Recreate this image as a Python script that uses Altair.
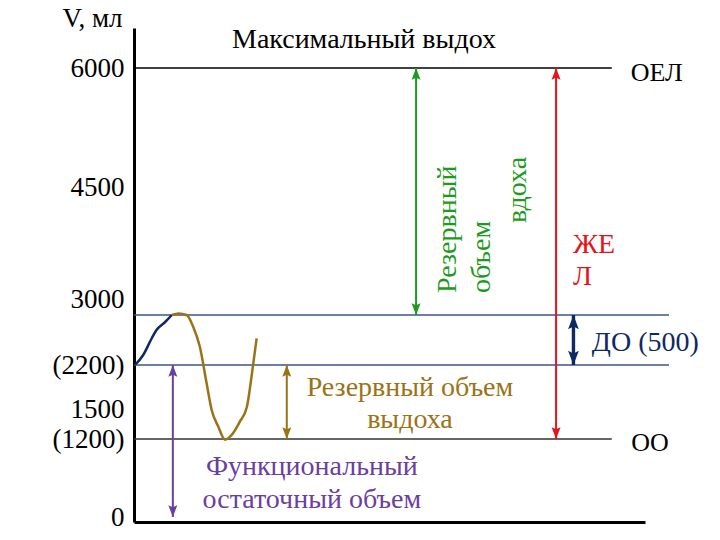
import altair as alt
import pandas as pd

# ---------------- data (volumes in ml, x in arbitrary time units 0..100) ----------------
tick_values = [0, 1200, 1500, 2200, 3000, 4500, 6000]

# hand-drawn (non-uniform) vertical axis of the original: breakpoints of the volume scale
y_breaks = [-80, 0, 1200, 1500, 2200, 2700, 3000, 4500, 6000, 6400]

# horizontal level lines
level_kind = ["черный", "уровень", "уровень", "ОО"]
level_v = [6000, 2700, 2200, 1200]
level_x0 = [0, 0, 0, 0]
level_x1 = [93.5, 104.7, 104.7, 93.5]

# spirogram: inspiration to the top of tidal volume, then tidal breathing + max expiration
insp_x = [0.2, 1.8, 3.5, 4.4, 6.1, 7.4]
insp_v = [2200, 2300, 2470, 2550, 2630, 2700]
breath_x = [7.4, 8.7, 10.3, 11.6, 12.9, 14.2, 15.2, 16.5, 17.8, 19.1, 20.7, 22.1, 23.0, 24.0]
breath_v = [2700, 2730, 2700, 2580, 2380, 1914, 1490, 1323, 1190, 1240, 1373, 1537, 2014, 2467]

# double-headed arrows
arrow_kind = ["ФОО", "РОвыд", "РОвд", "ЖЕЛ", "ДО"]
arrow_x = [7.6, 29.9, 55.2, 82.6, 86.0]
arrow_lo = [0, 1200, 2700, 1200, 2200]
arrow_hi = [2200, 2200, 6000, 6000, 2700]

# left-aligned labels
lab_text = ["ОЕЛ", "ЖЕ", "Л", "ДО (500)", "ОО"]
lab_kind = ["черный", "ЖЕЛ", "ЖЕЛ", "ДО", "черный"]
lab_x = [97.2, 85.9, 85.9, 89.6, 97.3]
lab_v = [5937, 3723, 3295, 2420, 1138]

# centred labels
cen_text = ["Максимальный выдох", "Резервный объем", "выдоха", "Функциональный", "остаточный объем"]
cen_kind = ["черный", "РОвыд", "РОвыд", "ФОО", "ФОО"]
cen_x = [45.0, 54.0, 54.0, 34.8, 34.8]
cen_v = [6280, 1834, 1390, 769, 261]

# rotated labels (reserve inspiratory volume)
rot_text = ["Резервный", "объем", "вдоха"]
rot_kind = ["РОвд", "РОвд", "РОвд"]
rot_x = [61.4, 68.1, 75.1]
rot_v = [3080, 3080, 4018]

# ---------------- tables ----------------
levels = pd.DataFrame({"kind": level_kind, "v": level_v, "x0": level_x0, "x1": level_x1})
curve = pd.DataFrame({
    "kind": ["ДО"] * len(insp_x) + ["РОвыд"] * len(breath_x),
    "x": insp_x + breath_x,
    "v": insp_v + breath_v,
    "order": list(range(len(insp_x))) + list(range(len(breath_x))),
})
arrows = pd.DataFrame({"kind": arrow_kind, "x": arrow_x, "lo": arrow_lo, "hi": arrow_hi})
labels = pd.DataFrame({"text": lab_text, "kind": lab_kind, "x": lab_x, "v": lab_v})
centred = pd.DataFrame({"text": cen_text, "kind": cen_kind, "x": cen_x, "v": cen_v})
rotated = pd.DataFrame({"text": rot_text, "kind": rot_kind, "x": rot_x, "v": rot_v})

# ---------------- scales / styles ----------------
W, H = 511, 494
colors = {
    "черный": "#000000",
    "уровень": "#3B5689",
    "ОО": "#333333",
    "ДО": "#0D2A62",
    "РОвд": "#1E9A1E",
    "ЖЕЛ": "#E5141B",
    "РОвыд": "#9A7316",
    "ФОО": "#6B3E9F",
}
color_scale = alt.Scale(domain=list(colors.keys()), range=list(colors.values()))
x_scale = alt.Scale(domain=[0, 100], nice=False, zero=False)
y_scale = alt.Scale(domain=y_breaks,
                    range=[494, 489, 411, 381, 337, 287, 271, 159, 40, 0],
                    nice=False, zero=False)

FONT = "Liberation Serif"

x_axis = alt.Axis(domain=True, domainColor="black", domainWidth=3, ticks=False,
                  labels=False, grid=False, title="")
y_axis = alt.Axis(values=tick_values, domain=True, domainColor="black", domainWidth=3,
                  ticks=False, grid=False, labelFont=FONT, labelFontSize=27,
                  labelColor="black", labelPadding=10, labelOverlap=False, labelFlush=False,
                  labelExpr="(datum.value == 2200 || datum.value == 1200) ? '(' + datum.value + ')' : '' + datum.value",
                  title="V, мл", titleAngle=0, titleX=-42, titleY=-10, titleAlign="center",
                  titleBaseline="middle", titleFont=FONT, titleFontSize=27,
                  titleFontWeight="normal", titleColor="black")

def X(field):
    return alt.X(field, type="quantitative", scale=x_scale, axis=x_axis)

def Y(field):
    return alt.Y(field, type="quantitative", scale=y_scale, axis=y_axis)

C = alt.Color("kind:N", scale=color_scale, legend=None)
HEAD_SIZE = alt.condition(alt.datum.kind == "ДО", alt.value(800), alt.value(560))

level_layer = alt.Chart(levels).mark_rule(strokeWidth=1.5).encode(
    x=X("x0"), x2="x1", y=Y("v"), color=C)

curve_layer = alt.Chart(curve).mark_line(strokeWidth=2.5, interpolate="monotone").encode(
    x=X("x"), y=Y("v"), color=C, order="order:Q", detail="kind:N")

shaft_layer = alt.Chart(arrows).mark_rule().encode(
    x=X("x"), y=Y("lo"), y2="hi", color=C,
    strokeWidth=alt.condition(alt.datum.kind == "ДО", alt.value(3.4), alt.value(2)))

up_head = alt.Chart(arrows).mark_point(
    shape="M0,0L0.38,1L0,0.82L-0.38,1Z", filled=True, opacity=1, strokeWidth=0
).encode(x=X("x"), y=Y("hi"), color=C, size=HEAD_SIZE)

down_head = alt.Chart(arrows).mark_point(
    shape="M0,0L0.38,-1L0,-0.82L-0.38,-1Z", filled=True, opacity=1, strokeWidth=0
).encode(x=X("x"), y=Y("lo"), color=C, size=HEAD_SIZE)

label_layer = alt.Chart(labels).mark_text(
    font=FONT, align="left", baseline="middle"
).encode(x=X("x"), y=Y("v"), text="text:N", color=C,
         size=alt.condition(alt.datum.kind == "черный", alt.value(26), alt.value(28)))

centred_layer = alt.Chart(centred).mark_text(
    font=FONT, fontSize=28, align="center", baseline="middle"
).encode(x=X("x"), y=Y("v"), text="text:N", color=C)

rotated_layer = alt.Chart(rotated).mark_text(
    font=FONT, fontSize=28, align="left", baseline="middle", angle=270
).encode(x=X("x"), y=Y("v"), text="text:N", color=C)

chart = alt.layer(
    level_layer, curve_layer, shaft_layer, up_head, down_head,
    label_layer, centred_layer, rotated_layer
).properties(
    width=W, height=H,
    padding={"left": 134, "top": 28, "right": 75, "bottom": 18},
    autosize=alt.AutoSizeParams(type="none"),
    background="white",
).configure_view(stroke=None).configure_legend(disable=True)

chart.save("out.html", embed_options={"renderer": "svg", "actions": False})
